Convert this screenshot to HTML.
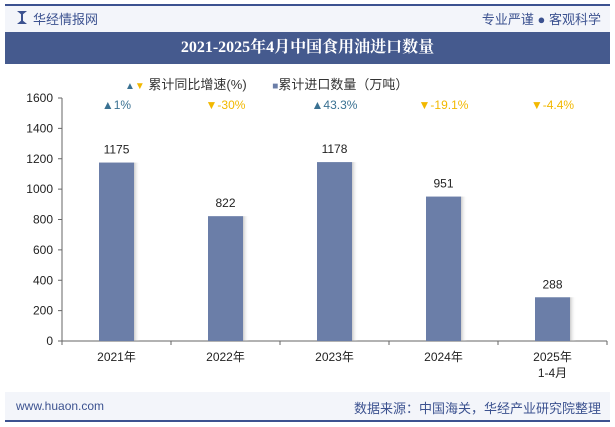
<!DOCTYPE html>
<html><head><meta charset="utf-8"><style>
body{margin:0;width:615px;height:427px;background:#fff;font-family:"Liberation Sans","Noto Sans CJK SC",sans-serif;overflow:hidden;position:relative}
.abs{position:absolute}
</style></head><body>
<div class="abs" style="left:5px;top:4px;width:605px;height:28px;background:#f3f5fa;border-top:2px solid #3c5290"></div>
<div class="abs" style="left:17px;top:11px;width:10px;height:13px;background:#3c5290;clip-path:polygon(0 0,40% 25%,40% 75%,0 100%,100% 100%,60% 75%,60% 25%,100% 0)"></div>
<div class="abs" style="left:33px;top:9px;font-size:13px;color:#3c5290">华经情报网</div>
<div class="abs" style="right:14px;top:9px;font-size:13px;color:#3c5290">专业严谨 ● 客观科学</div>
<div class="abs" style="left:5px;top:32px;width:605px;height:32px;background:#455a8e;color:#fff;font-family:'Liberation Serif','Noto Serif CJK SC',serif;font-weight:bold;font-size:16px;line-height:32px;text-align:center">2021-2025年4月中国食用油进口数量</div>
<div class="abs" style="left:125px;top:74px;font-size:13px;color:#333;white-space:nowrap">
<span><span style="color:#3a7192;font-size:10px">▲</span><span style="color:#f2b800;font-size:10px">▼</span> 累计同比增速(%)</span>
<span style="margin-left:22px"><span style="color:#6b7ea8;font-size:10px">■</span>累计进口数量（万吨）</span></div>
<svg class="abs" style="left:0;top:0" width="615" height="427">
<defs><linearGradient id="sh" x1="0" x2="1"><stop offset="0" stop-color="#aaa" stop-opacity=".6"/><stop offset="1" stop-color="#fff" stop-opacity="0"/></linearGradient></defs>
<g id="g"></g></svg>
<div class="abs" style="left:5px;top:392px;width:605px;height:28px;background:#f3f5fa;border-bottom:2px solid #3c5290"></div>
<div class="abs" style="left:16px;top:399px;font-size:12px;color:#3c5290">www.huaon.com</div>
<div class="abs" style="right:14px;top:398px;font-size:13px;color:#3c5290">数据来源：中国海关，华经产业研究院整理</div>
<script>
const categories=["2021年","2022年","2023年","2024年","2025年"];
const volumes=[1175,822,1178,951,288];
const growth=[1,-30,43.3,-19.1,-4.4];
const growthLabels=["1%","-30%","43.3%","-19.1%","-4.4%"];
const yTicks=[0,200,400,600,800,1000,1200,1400,1600];
const NS="http://www.w3.org/2000/svg",g=document.getElementById('g');
const x0=62,x1=607,yb=341,yt=98;
const y=v=>yb-(v/1600)*(yb-yt);
const bw=(x1-x0)/categories.length;
const xc=i=>x0+bw*(i+0.5);
function mk(t,a,txt){const e=document.createElementNS(NS,t);for(const k in a)e.setAttribute(k,a[k]);if(txt!==undefined)e.textContent=txt;g.appendChild(e);return e;}
let e=mk('line',{x1:x0,x2:x0,y1:yt,y2:yb,stroke:'#666'});

e=mk('line',{x1:x0,x2:x1,y1:yb,y2:yb,stroke:'#666'});

yTicks.forEach(v=>{mk('line',{x1:x0-4,x2:x0,y1:y(v),y2:y(v),stroke:'#666'});
e=mk('text',{x:x0-9,y:y(v)+4,'text-anchor':'end','font-size':12,fill:'#222'},v);
});
for(let i=0;i<=categories.length;i++)mk('line',{x1:x0+bw*i,x2:x0+bw*i,y1:yb,y2:yb+4,stroke:'#666'});
categories.forEach((c,i)=>{
const cx=xc(i),w=35;
mk('rect',{x:cx+w/2,y:y(volumes[i]),width:6,height:yb-y(volumes[i]),fill:'url(#sh)'});
e=mk('rect',{x:cx-w/2,y:y(volumes[i]),width:w,height:yb-y(volumes[i]),fill:'#6b7ea8'});

e=mk('text',{x:cx,y:y(volumes[i])-9,'text-anchor':'middle','font-size':12,fill:'#222'},volumes[i]);

e=mk('text',{x:cx,y:yb+20,'text-anchor':'middle','font-size':12,fill:'#222'},c);

if(i==4){e=mk('text',{x:cx,y:yb+36,'text-anchor':'middle','font-size':12,fill:'#222'},'1-4月');
}
const up=growth[i]>=0;
e=mk('text',{x:cx,y:109,'text-anchor':'middle','font-size':12,fill:up?'#3a7192':'#f2b800'},(up?'▲':'▼')+growthLabels[i]);

});
</script>
</body></html>
